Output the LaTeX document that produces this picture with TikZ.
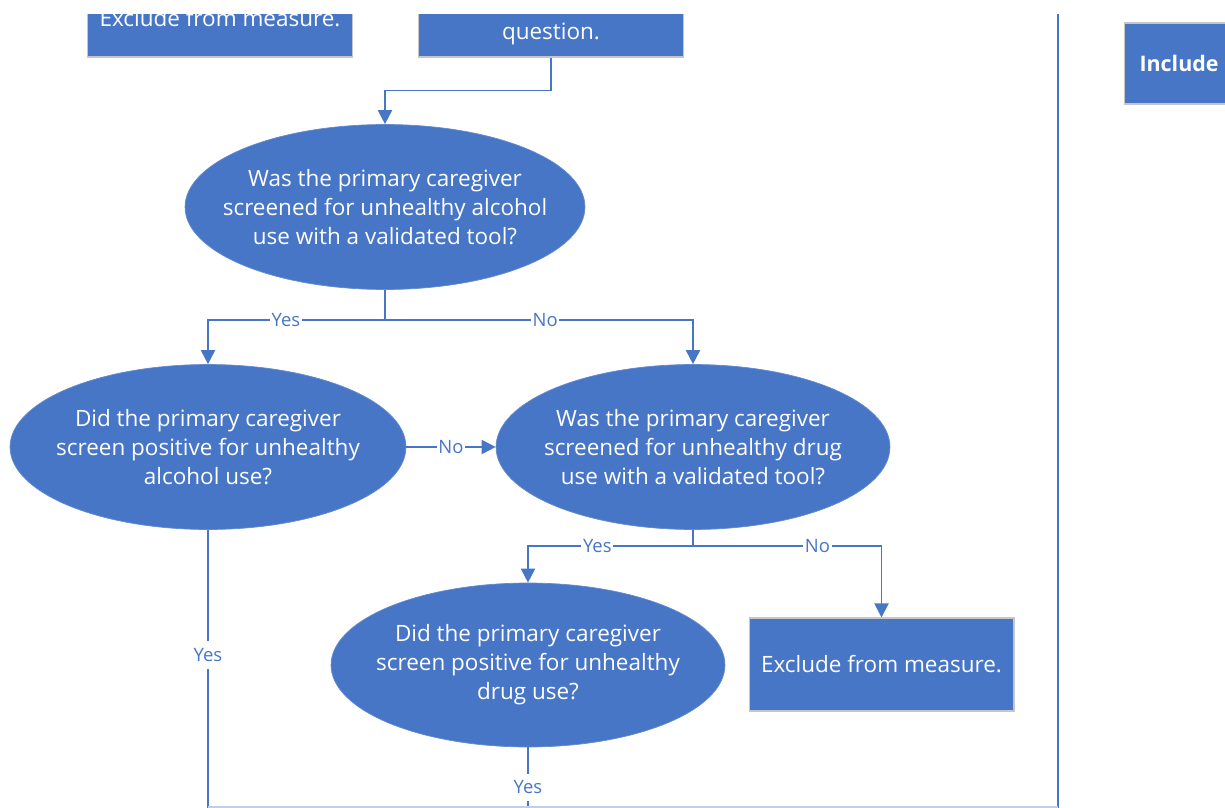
\documentclass[tikz,border=0pt]{standalone}
\usepackage{fontspec}
\setmainfont{Open Sans}
\usetikzlibrary{arrows.meta,shapes.geometric}
\definecolor{flowblue}{RGB}{72,118,198}

\begin{document}
\begin{tikzpicture}[x=0.02cm, y=-0.02cm, line width=1.1pt,
    every node/.style={font=\fontsize{12.8}{16.5}\selectfont},
    decision/.style={ellipse, fill=flowblue, draw=flowblue!85!white, line width=0.4pt,
        text=white, align=center, inner xsep=-50pt, inner ysep=-30pt},
    action/.style={rectangle, fill=flowblue, draw=gray!45, line width=0.6pt,
        text=white, align=center, minimum width=5.3cm},
    flow/.style={draw=flowblue, -{Triangle[length=0.28cm, width=0.28cm]}},
    wire/.style={draw=flowblue},
    answer/.style={fill=white, text=flowblue, inner sep=1pt,
        font=\fontsize{10.5}{11}\selectfont}]

    \useasboundingbox (0,0) rectangle (1225,808);
    \clip (0,14) rectangle (1225,808);

    % Draw the boxes cut by the top edge
    \node[action, minimum height=1.56cm] (exclA) at (220,18) {Exclude from measure.};
    \node[action, minimum height=0.92cm] (qbox) at (551,34) {question.};
    \node[action, anchor=west, minimum width=0pt, minimum height=1.62cm,
        text width=2.2cm, align=left, inner xsep=0.3cm,
        font=\fontsize{12.2}{16.5}\selectfont\bfseries] (incl) at (1124,63.5) {Include};

    % Draw the decisions
    \node[decision, minimum width=8cm, minimum height=3.3cm] (alcScreen) at (385,207)
        {Was the primary caregiver\\screened for unhealthy alcohol\\use with a validated tool?};
    \node[decision, minimum width=7.92cm, minimum height=3.3cm] (alcPos) at (208,447)
        {Did the primary caregiver\\screen positive for unhealthy\\alcohol use?};
    \node[decision, minimum width=7.88cm, minimum height=3.3cm] (drugScreen) at (693,447)
        {Was the primary caregiver\\screened for unhealthy drug\\use with a validated tool?};
    \node[decision, minimum width=7.88cm, minimum height=3.28cm] (drugPos) at (528,665)
        {Did the primary caregiver\\screen positive for unhealthy\\drug use?};
    \node[action, minimum height=1.86cm] (exclB) at (881.5,664.5) {Exclude from measure.};

    % Free ends at the bottom and the side
    \coordinate (alcOut) at (208,808);
    \coordinate (drugOut) at (528,808);
    \coordinate (sideTop) at (1058,0);
    \coordinate (sideBot) at (1058,808);
    \coordinate (baseLeft) at (208,807);
    \coordinate (baseRight) at (1058,807);

    % Draw the connectors
    \draw[flow] (qbox.south) -- ++(0,33) -| (alcScreen.north);
    \draw[flow] (alcScreen.south) -- ++(0,30) -| node[answer, pos=0.28] {Yes} (alcPos.north);
    \draw[flow] (alcScreen.south) -- ++(0,30) -| node[answer, pos=0.26] {No} (drugScreen.north);
    \draw[flow] (alcPos.east) -- node[answer] {No} (drugScreen.west);
    \draw[flow] (drugScreen.south) -- ++(0,16) -| node[answer, pos=0.29] {Yes} (drugPos.north);
    \draw[flow] (drugScreen.south) -- ++(0,16) -| node[answer, pos=0.33] {No} (exclB.north);
    \draw[wire] (alcPos.south) -- node[answer, pos=0.45, inner ysep=4pt] {Yes} (alcOut);
    \draw[wire] (drugPos.south) -- node[answer, pos=0.66, inner ysep=4pt] {Yes} (drugOut);
    \draw[wire] (sideTop) -- (sideBot);
    \draw[wire, draw=flowblue!35] (baseLeft) -- (baseRight);
\end{tikzpicture}
\end{document}
